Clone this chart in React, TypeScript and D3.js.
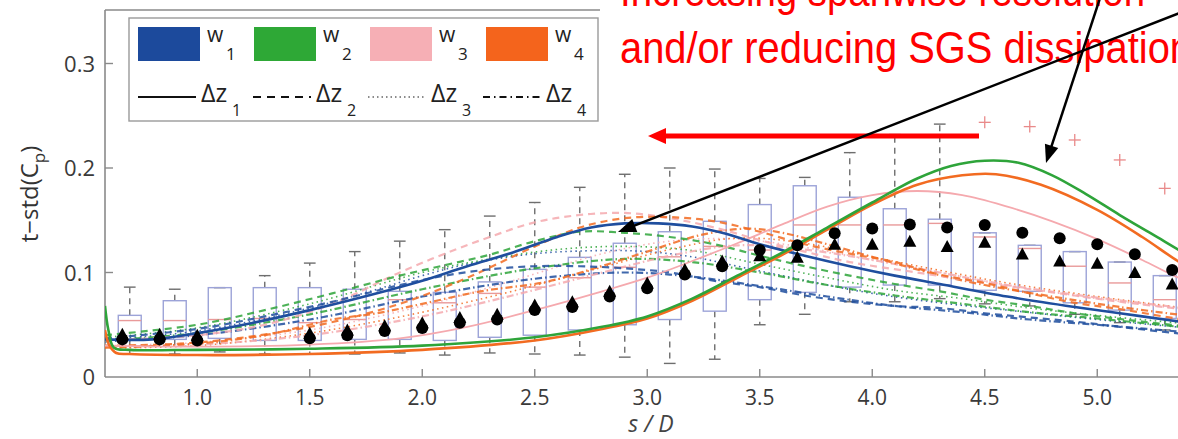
import React from "react";
import * as d3 from "d3";

const W = 1178;
const H = 439;

// ---------- axis ticks ----------
const xTicks = [1.0, 1.5, 2.0, 2.5, 3.0, 3.5, 4.0, 4.5, 5.0];
const xTickLabels = ["1.0", "1.5", "2.0", "2.5", "3.0", "3.5", "4.0", "4.5", "5.0"];
const yTicks = [0, 0.1, 0.2, 0.3];
const yTickLabels = ["0", "0.1", "0.2", "0.3"];

// ---------- box plot (experiment) ----------
const boxS = [0.7, 0.9, 1.1, 1.3, 1.5, 1.7, 1.9, 2.1, 2.3, 2.5, 2.7, 2.9, 3.1, 3.3, 3.5, 3.7, 3.9, 4.1, 4.3, 4.5, 4.7, 4.9, 5.1, 5.3];
const boxLow = [0.022, 0.022, 0.024, 0.022, 0.022, 0.022, 0.023, 0.021, 0.023, 0.022, 0.021, 0.019, 0.013, 0.017, 0.05, 0.06, 0.072, 0.072, 0.075, 0.07, 0.068, 0.06, 0.052, 0.045];
const boxQ1 = [0.036, 0.036, 0.037, 0.035, 0.035, 0.036, 0.036, 0.035, 0.038, 0.04, 0.045, 0.05, 0.055, 0.063, 0.074, 0.081, 0.086, 0.088, 0.088, 0.083, 0.082, 0.071, 0.064, 0.056];
const boxMed = [0.054, 0.054, 0.055, 0.056, 0.052, 0.055, 0.074, 0.071, 0.08, 0.086, 0.095, 0.105, 0.115, 0.125, 0.1215, 0.1455, 0.1455, 0.1455, 0.147, 0.134, 0.123, 0.106, 0.09, 0.074];
const boxQ3 = [0.059, 0.073, 0.0855, 0.0855, 0.0855, 0.084, 0.082, 0.081, 0.091, 0.103, 0.1145, 0.128, 0.139, 0.149, 0.165, 0.183, 0.172, 0.161, 0.151, 0.138, 0.126, 0.12, 0.11, 0.097];
const boxHigh = [0.086, 0.084, 0.0855, 0.097, 0.109, 0.12, 0.13, 0.141, 0.154, 0.167, 0.1815, 0.194, 0.2, 0.199, 0.19, 0.191, 0.2147, 0.232, 0.242, 0.138, 0.126, 0.12, 0.11, 0.097];
const outlierS = [4.5, 4.7, 4.9, 5.1, 5.3];
const outlierV = [0.2437, 0.2396, 0.2268, 0.2077, 0.1805];

// ---------- black markers ----------
const markerS = [0.667, 0.833, 1.0, 1.5, 1.667, 1.833, 2.0, 2.167, 2.333, 2.5, 2.667, 2.833, 3.0, 3.167, 3.333, 3.5, 3.667, 3.833, 4.0, 4.167, 4.333, 4.5, 4.667, 4.833, 5.0, 5.167, 5.333];
const circleV = [0.036, 0.036, 0.035, 0.037, 0.04, 0.044, 0.047, 0.052, 0.055, 0.064, 0.067, 0.077, 0.085, 0.098, 0.106, 0.1215, 0.126, 0.1375, 0.142, 0.146, 0.143, 0.1455, 0.138, 0.1327, 0.127, 0.1174, 0.1024];
const triangleV = [0.04, 0.04, 0.039, 0.041, 0.044, 0.048, 0.051, 0.056, 0.059, 0.068, 0.071, 0.081, 0.089, 0.102, 0.11, 0.115, 0.1136, 0.126, 0.126, 0.129, 0.124, 0.128, 0.1167, 0.11, 0.108, 0.099, 0.088];

// ---------- simulation curves  [s/D, t-std(Cp)] ----------
const w1_dz1: [number, number][] = [[0.59, 0.036], [0.8, 0.036], [1.0, 0.042], [1.25, 0.052], [1.5, 0.064], [1.85, 0.083], [2.0, 0.092], [2.2, 0.106], [2.4, 0.119], [2.6, 0.134], [2.75, 0.143], [2.9, 0.147], [3.05, 0.147], [3.2, 0.144], [3.35, 0.137], [3.5, 0.127], [3.7, 0.116], [3.9, 0.106], [4.1, 0.097], [4.3, 0.089], [4.6, 0.077], [4.9, 0.067], [5.2, 0.058], [5.5, 0.049]];
const w2_dz1: [number, number][] = [[0.59, 0.068], [0.605, 0.045], [0.63, 0.028], [0.7, 0.026], [1.0, 0.026], [1.5, 0.027], [2.0, 0.03], [2.5, 0.038], [2.8, 0.048], [3.0, 0.058], [3.2, 0.075], [3.4, 0.097], [3.6, 0.119], [3.8, 0.143], [4.0, 0.167], [4.2, 0.19], [4.35, 0.202], [4.5, 0.207], [4.65, 0.205], [4.8, 0.193], [4.95, 0.175], [5.1, 0.155], [5.25, 0.136], [5.4, 0.117], [5.55, 0.1]];
const w3_dz1: [number, number][] = [[0.59, 0.03], [1.0, 0.029], [1.5, 0.031], [1.9, 0.037], [2.2, 0.048], [2.5, 0.064], [2.8, 0.082], [3.0, 0.095], [3.2, 0.111], [3.4, 0.128], [3.6, 0.146], [3.8, 0.163], [4.0, 0.174], [4.2, 0.178], [4.4, 0.174], [4.6, 0.163], [4.8, 0.149], [5.0, 0.132], [5.2, 0.112], [5.35, 0.096], [5.55, 0.078]];
const w4_dz1: [number, number][] = [[0.59, 0.045], [0.61, 0.03], [0.64, 0.023], [0.7, 0.022], [1.0, 0.021], [1.5, 0.022], [2.0, 0.026], [2.5, 0.035], [2.8, 0.046], [3.0, 0.056], [3.2, 0.073], [3.4, 0.095], [3.6, 0.117], [3.8, 0.141], [4.0, 0.165], [4.2, 0.184], [4.4, 0.193], [4.55, 0.194], [4.75, 0.184], [5.0, 0.16], [5.2, 0.134], [5.35, 0.112], [5.55, 0.085]];

const w1_dz2: [number, number][] = [[0.59, 0.037], [1.0, 0.046], [1.3, 0.058], [1.6, 0.072], [1.9, 0.088], [2.1, 0.097], [2.3, 0.103], [2.5, 0.106], [2.7, 0.106], [2.9, 0.104], [3.1, 0.1], [3.3, 0.092], [3.5, 0.086], [3.7, 0.078], [3.9, 0.072], [4.1, 0.068], [4.3, 0.066], [4.5, 0.061], [4.7, 0.057], [4.9, 0.053], [5.1, 0.048], [5.35, 0.042], [5.55, 0.038]];
const w2_dz2: [number, number][] = [[0.59, 0.04], [1.0, 0.05], [1.3, 0.064], [1.6, 0.08], [1.9, 0.097], [2.1, 0.107], [2.3, 0.117], [2.5, 0.13], [2.7, 0.139], [2.9, 0.138], [3.1, 0.134], [3.3, 0.127], [3.5, 0.116], [3.7, 0.106], [3.9, 0.097], [4.1, 0.089], [4.3, 0.082], [4.5, 0.074], [4.7, 0.068], [4.9, 0.061], [5.2, 0.053], [5.5, 0.046]];
const w3_dz2: [number, number][] = [[0.59, 0.035], [1.0, 0.04], [1.3, 0.05], [1.6, 0.07], [1.9, 0.1], [2.1, 0.118], [2.3, 0.134], [2.5, 0.148], [2.7, 0.155], [2.9, 0.157], [3.1, 0.152], [3.3, 0.143], [3.5, 0.131], [3.7, 0.12], [3.9, 0.11], [4.2, 0.1], [4.5, 0.09], [4.8, 0.081], [5.1, 0.072], [5.5, 0.062]];
const w4_dz2: [number, number][] = [[0.59, 0.03], [1.0, 0.033], [1.5, 0.048], [1.9, 0.07], [2.2, 0.095], [2.5, 0.125], [2.7, 0.143], [2.9, 0.152], [3.1, 0.153], [3.3, 0.149], [3.5, 0.139], [3.7, 0.127], [3.9, 0.118], [4.1, 0.11], [4.3, 0.098], [4.5, 0.09], [4.7, 0.08], [4.9, 0.071], [5.1, 0.065], [5.35, 0.056], [5.55, 0.05]];

const w1_dz3: [number, number][] = [[0.59, 0.036], [1.0, 0.044], [1.5, 0.066], [1.8, 0.084], [2.0, 0.097], [2.2, 0.108], [2.5, 0.118], [2.8, 0.121], [3.0, 0.12], [3.2, 0.115], [3.4, 0.106], [3.6, 0.097], [3.8, 0.088], [4.0, 0.08], [4.3, 0.071], [4.6, 0.064], [5.0, 0.055], [5.5, 0.045]];
const w2_dz3: [number, number][] = [[0.59, 0.038], [1.0, 0.047], [1.5, 0.07], [2.0, 0.1], [2.3, 0.113], [2.6, 0.122], [2.9, 0.125], [3.2, 0.121], [3.5, 0.108], [3.8, 0.095], [4.1, 0.083], [4.4, 0.075], [4.7, 0.066], [5.0, 0.059], [5.5, 0.049]];
const w3_dz3: [number, number][] = [[0.59, 0.03], [1.0, 0.033], [1.5, 0.045], [2.0, 0.068], [2.4, 0.092], [2.8, 0.118], [3.1, 0.13], [3.4, 0.132], [3.7, 0.124], [4.0, 0.112], [4.3, 0.1], [4.6, 0.088], [5.0, 0.075], [5.5, 0.062]];
const w4_dz3: [number, number][] = [[0.59, 0.028], [1.0, 0.03], [1.5, 0.042], [2.0, 0.062], [2.4, 0.082], [2.8, 0.105], [3.1, 0.122], [3.4, 0.133], [3.7, 0.128], [4.0, 0.115], [4.3, 0.102], [4.6, 0.09], [5.0, 0.077], [5.5, 0.063]];

const w1_dz4: [number, number][] = [[0.59, 0.034], [1.0, 0.04], [1.5, 0.055], [2.0, 0.077], [2.5, 0.094], [2.9, 0.1], [3.2, 0.096], [3.5, 0.087], [3.8, 0.077], [4.1, 0.068], [4.4, 0.062], [4.7, 0.055], [5.0, 0.05], [5.5, 0.041]];
const w2_dz4: [number, number][] = [[0.59, 0.035], [1.0, 0.042], [1.5, 0.06], [2.0, 0.084], [2.5, 0.104], [2.9, 0.113], [3.2, 0.11], [3.5, 0.1], [3.8, 0.088], [4.1, 0.078], [4.4, 0.07], [4.7, 0.062], [5.0, 0.056], [5.5, 0.045]];
const w3_dz4: [number, number][] = [[0.59, 0.029], [1.0, 0.031], [1.5, 0.04], [2.0, 0.058], [2.4, 0.078], [2.8, 0.1], [3.1, 0.116], [3.4, 0.126], [3.7, 0.122], [4.0, 0.112], [4.3, 0.1], [4.6, 0.088], [5.0, 0.076], [5.5, 0.063]];
const w4_dz4: [number, number][] = [[0.59, 0.028], [1.0, 0.032], [1.3, 0.04], [1.6, 0.055], [1.8, 0.061], [2.0, 0.07], [2.26, 0.082], [2.55, 0.091], [2.78, 0.105], [3.0, 0.12], [3.24, 0.136], [3.45, 0.142], [3.6, 0.138], [3.8, 0.127], [4.0, 0.115], [4.25, 0.1], [4.5, 0.088], [4.8, 0.077], [5.1, 0.067], [5.5, 0.056]];

// ---------- legend ----------
const legendW = ["1", "2", "3", "4"];
const legendDz = ["1", "2", "3", "4"];

// ---------- styles ----------
const BLUE = "#1f4e9e";
const GREEN = "#2ea43a";
const PINK = "#f5a9ae";
const ORANGE = "#f26b21";
const LEG_COLORS = ["#1c4a9c", "#2ea836", "#f6afb5", "#f4641c"];
const DASH: Record<string, string | undefined> = {
  solid: undefined,
  dashed: "7,5",
  dotted: "1.5,3.5",
  dashdot: "7,3,1.5,3",
};
const LEG_DASH = [undefined, "8,6", "1.5,3", "7,4,1.5,4"];

const series = [
  { d: w1_dz3, c: BLUE, s: "dotted" },
  { d: w2_dz3, c: GREEN, s: "dotted" },
  { d: w3_dz3, c: PINK, s: "dotted" },
  { d: w4_dz3, c: ORANGE, s: "dotted" },
  { d: w1_dz4, c: BLUE, s: "dashdot" },
  { d: w2_dz4, c: GREEN, s: "dashdot" },
  { d: w3_dz4, c: PINK, s: "dashdot" },
  { d: w4_dz4, c: ORANGE, s: "dashdot" },
  { d: w3_dz2, c: PINK, s: "dashed" },
  { d: w4_dz2, c: ORANGE, s: "dashed" },
  { d: w2_dz2, c: GREEN, s: "dashed" },
  { d: w1_dz2, c: BLUE, s: "dashed" },
  { d: w3_dz1, c: PINK, s: "solid" },
  { d: w1_dz1, c: BLUE, s: "solid" },
  { d: w4_dz1, c: ORANGE, s: "solid" },
  { d: w2_dz1, c: GREEN, s: "solid" },
];

const FONT = "'Open Sans', 'DejaVu Sans', sans-serif";

function arrowHead(tx: number, ty: number, fx: number, fy: number, len: number, half: number) {
  const dx = tx - fx;
  const dy = ty - fy;
  const L = Math.hypot(dx, dy);
  const ux = dx / L;
  const uy = dy / L;
  const bx = tx - ux * len;
  const by = ty - uy * len;
  return `${tx},${ty} ${bx - uy * half},${by + ux * half} ${bx + uy * half},${by - ux * half}`;
}

export default function App() {
  const left = 105;
  const bottom = 377;
  const top = 10;
  const x = d3.scaleLinear().domain([0.59, 5.5]).range([left, left + 4.91 * 225]);
  const y = d3.scaleLinear().domain([0, 0.35]).range([bottom, bottom - 0.35 * 1045]);
  const line = d3
    .line<[number, number]>()
    .x((d) => x(d[0]))
    .y((d) => y(d[1]))
    .curve(d3.curveCatmullRom.alpha(0.5));

  const halfBox = 0.051;
  const halfCap = 0.026;

  // black arrows
  const a1 = { fx: 1200, fy: 5, tx: 618, ty: 232 };
  const a2 = { fx: 1102, fy: -8, tx: 1046, ty: 163 };

  return (
    <svg width={W} height={H} style={{ position: "absolute", left: 0, top: 0, background: "#fff" }} fontFamily={FONT}>
      <defs>
        <clipPath id="plotclip">
          <rect x={left} y={top} width={W - left} height={bottom - top} />
        </clipPath>
      </defs>
      <rect x={0} y={0} width={W} height={H} fill="#fff" />

      {/* axes frame */}
      <line x1={left} y1={top} x2={left} y2={bottom} stroke="#8a8a8a" strokeWidth={1.6} />
      <line x1={left} y1={bottom} x2={W} y2={bottom} stroke="#8a8a8a" strokeWidth={1.6} />
      <line x1={left} y1={top} x2={600} y2={top} stroke="#8a8a8a" strokeWidth={1.6} />

      {yTicks.map((t, i) => (
        <g key={"yt" + i}>
          {t > 0 && <line x1={left} x2={left + 8} y1={y(t)} y2={y(t)} stroke="#8a8a8a" strokeWidth={1.4} />}
          <text x={95} y={y(t) + 8} textAnchor="end" fontSize={22} fill="#3a3a3a">
            {yTickLabels[i]}
          </text>
        </g>
      ))}
      {xTicks.map((t, i) => (
        <g key={"xt" + i}>
          <line x1={x(t)} x2={x(t)} y1={bottom} y2={bottom - 8} stroke="#8a8a8a" strokeWidth={1.4} />
          <text x={x(t)} y={405} textAnchor="middle" fontSize={21} fill="#3a3a3a">
            {xTickLabels[i]}
          </text>
        </g>
      ))}

      <text x={651} y={432} textAnchor="middle" fontSize={23} fontStyle="italic" fill="#444">
        s / D
      </text>
      <text transform="translate(38,194) rotate(-90)" textAnchor="middle" fontSize={24} fill="#333">
        t−std(C<tspan dy={7} fontSize={17}>p</tspan>
        <tspan dy={-7}>)</tspan>
      </text>

      <g clipPath="url(#plotclip)">
        {/* box plots */}
        {boxS.map((s, i) => (
          <g key={"box" + i}>
            {boxHigh[i] > boxQ3[i] + 0.001 && (
              <line x1={x(s)} x2={x(s)} y1={y(boxQ3[i])} y2={y(boxHigh[i])} stroke="#6e6e6e" strokeWidth={1.4} strokeDasharray="6,5" />
            )}
            <line x1={x(s - halfCap)} x2={x(s + halfCap)} y1={y(boxHigh[i])} y2={y(boxHigh[i])} stroke="#6e6e6e" strokeWidth={1.4} />
            <line x1={x(s)} x2={x(s)} y1={y(boxQ1[i])} y2={y(boxLow[i])} stroke="#6e6e6e" strokeWidth={1.4} strokeDasharray="6,5" />
            <line x1={x(s - halfCap)} x2={x(s + halfCap)} y1={y(boxLow[i])} y2={y(boxLow[i])} stroke="#6e6e6e" strokeWidth={1.4} />
            <rect
              x={x(s - halfBox)}
              y={y(boxQ3[i])}
              width={x(s + halfBox) - x(s - halfBox)}
              height={y(boxQ1[i]) - y(boxQ3[i])}
              fill="none"
              stroke="#9ca3d8"
              strokeWidth={1.4}
            />
            <line x1={x(s - halfBox)} x2={x(s + halfBox)} y1={y(boxMed[i])} y2={y(boxMed[i])} stroke="#e99a9a" strokeWidth={1.4} />
          </g>
        ))}
        {outlierS.map((s, i) => (
          <g key={"out" + i} stroke="#e98a8a" strokeWidth={1.3}>
            <line x1={x(s) - 6} x2={x(s) + 6} y1={y(outlierV[i])} y2={y(outlierV[i])} />
            <line x1={x(s)} x2={x(s)} y1={y(outlierV[i]) - 6} y2={y(outlierV[i]) + 6} />
          </g>
        ))}

        {/* simulation curves */}
        {series.map((sr, i) => (
          <path
            key={"ln" + i}
            d={line(sr.d) || ""}
            fill="none"
            stroke={sr.c}
            strokeWidth={sr.s === "solid" ? (sr.c === PINK ? 1.8 : 2.6) : sr.s === "dotted" ? 1.6 : 2.2}
            strokeDasharray={DASH[sr.s]}
            strokeOpacity={sr.s === "solid" ? 1 : 0.85}
          />
        ))}

        {/* markers */}
        {markerS.map((s, i) => (
          <circle key={"c" + i} cx={x(s)} cy={y(circleV[i])} r={6} fill="#000" />
        ))}
        {markerS.map((s, i) => {
          const cx = x(s);
          const cy = y(triangleV[i]);
          return <polygon key={"t" + i} points={`${cx},${cy - 7.5} ${cx - 6.5},${cy + 4.5} ${cx + 6.5},${cy + 4.5}`} fill="#000" />;
        })}
      </g>

      {/* legend */}
      <rect x={129} y={18} width={469} height={103} fill="#fff" stroke="#9a9a9a" strokeWidth={1.4} />
      {legendW.map((n, i) => (
        <g key={"lw" + i}>
          <rect x={138 + i * 116} y={27} width={62} height={34} fill={LEG_COLORS[i]} />
          <text x={207 + i * 116} y={42} fontSize={21} fill="#222">
            w
          </text>
          <text x={226 + i * 116} y={60} fontSize={17} fill="#222">
            {n}
          </text>
        </g>
      ))}
      {legendDz.map((n, i) => (
        <g key={"lz" + i}>
          <line
            x1={138 + i * 115}
            x2={196 + i * 115}
            y1={97}
            y2={97}
            stroke={i === 2 ? "#666" : "#111"}
            strokeWidth={i === 2 ? 1.3 : 2}
            strokeDasharray={LEG_DASH[i]}
          />
          <text x={201 + i * 115} y={102} fontSize={25} fill="#222">
            Δz
          </text>
          <text x={232 + i * 115} y={116} fontSize={16} fill="#222">
            {n}
          </text>
        </g>
      ))}

      {/* red annotation */}
      <text x={620} y={6} fontSize={44} fill="#ff0000" fontFamily="'Liberation Sans', Arial, sans-serif" textLength={525} lengthAdjust="spacingAndGlyphs">
        Increasing spanwise resolution
      </text>
      <text x={620} y={63} fontSize={44} fill="#ff0000" fontFamily="'Liberation Sans', Arial, sans-serif" textLength={572} lengthAdjust="spacingAndGlyphs">
        and/or reducing SGS dissipation
      </text>
      <line x1={979} y1={136} x2={660} y2={136} stroke="#ff0000" strokeWidth={5} />
      <polygon points={arrowHead(648, 136, 979, 136, 18, 8)} fill="#ff0000" />

      {/* black arrows */}
      {[a1, a2].map((a, i) => {
        const L = Math.hypot(a.tx - a.fx, a.ty - a.fy);
        const ex = a.tx - ((a.tx - a.fx) / L) * 12;
        const ey = a.ty - ((a.ty - a.fy) / L) * 12;
        return (
          <g key={"ba" + i}>
            <line x1={a.fx} y1={a.fy} x2={ex} y2={ey} stroke="#000" strokeWidth={2.5} />
            <polygon points={arrowHead(a.tx, a.ty, a.fx, a.fy, 18, 7)} fill="#000" />
          </g>
        );
      })}
    </svg>
  );
}
